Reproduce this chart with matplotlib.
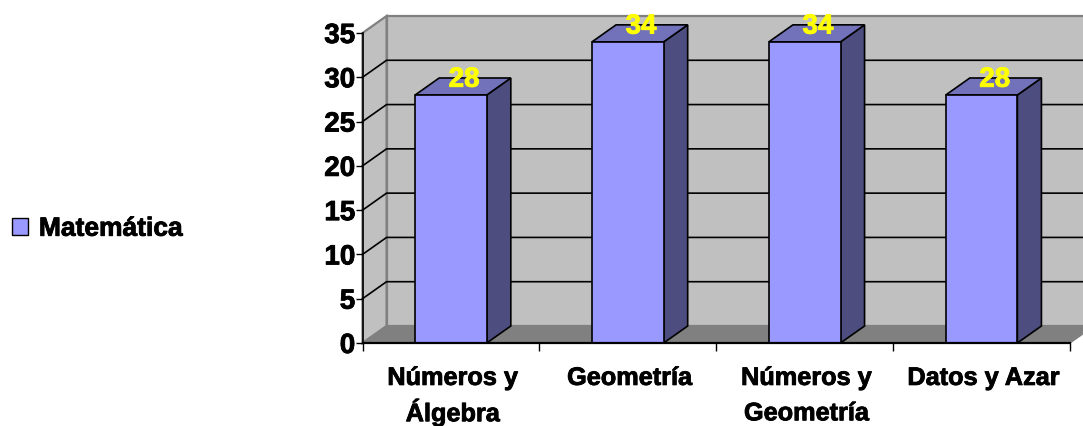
import matplotlib
matplotlib.use('Agg')
import matplotlib.pyplot as plt
import matplotlib.patheffects as pe
from matplotlib.patches import Patch, Polygon

plt.rcParams['font.family'] = ['Liberation Sans', 'DejaVu Sans']

categories = ['Números y\nÁlgebra', 'Geometría', 'Números y\nGeometría', 'Datos y Azar']
values = [28, 34, 34, 28]
series_name = 'Matemática'
yticks = [0, 5, 10, 15, 20, 25, 30, 35]

# depth of the fake 3d box, in data units
dx = 0.136
dy = 1.92
bar_w = 0.405

front = '#9999FF'
top = '#7272BA'
side = '#4D4D80'
wall = '#C0C0C0'
floor = '#808080'


def poly(ax, pts, color, edge='black', lw=1.2, z=2):
    ax.add_patch(Polygon(pts, closed=True, facecolor=color, edgecolor=edge,
                         linewidth=lw, zorder=z, clip_on=False,
                         joinstyle='miter'))


def fatten(t, color='black'):
    t.set_path_effects([pe.withStroke(linewidth=0.6, foreground=color)])


fig = plt.figure(figsize=(10.83, 4.26), dpi=100)
ax = fig.add_axes([362.5/1083, 83/426, 707.5/1083, 310/426])
ax.set_xlim(0, 4)
ax.set_ylim(0, 35)

n = len(categories)
ymax = yticks[-1]

# walls and floor
poly(ax, [(dx, dy), (n+dx, dy), (n+dx, ymax+dy), (dx, ymax+dy)], wall, floor, 1.6, 1)
poly(ax, [(0, 0), (dx, dy), (dx, ymax+dy), (0, ymax)], wall, floor, 1.6, 1)
poly(ax, [(0, 0), (n, 0), (n+dx, dy), (dx, dy)], floor, floor, 1, 1)

# grid lines
for t in yticks[1:-1]:
    ax.plot([0, dx, n+dx], [t, t+dy, t+dy], color='black', lw=1.2, zorder=1.5,
            clip_on=False)

# bars
for i, v in enumerate(values):
    x0 = i + 0.5 - bar_w/2
    x1 = i + 0.5 + bar_w/2
    poly(ax, [(x1, 0), (x1+dx, dy), (x1+dx, v+dy), (x1, v)], side)
    poly(ax, [(x0, v), (x1, v), (x1+dx, v+dy), (x0+dx, v+dy)], top)
    poly(ax, [(x0, 0), (x1, 0), (x1, v), (x0, v)], front, z=3)
    lab = ax.text(i + 0.5 + dx*0.55, v + dy - 0.2, str(v), color='#FFFF00', fontsize=20,
                  fontweight='bold', ha='center', va='center', zorder=5, clip_on=False)
    fatten(lab, '#FFFF00')

for s in ['top', 'right']:
    ax.spines[s].set_visible(False)
ax.spines['left'].set_linewidth(1.2)
ax.spines['bottom'].set_linewidth(1.6)
ax.spines['left'].set_zorder(6)
ax.spines['bottom'].set_zorder(6)
ax.patch.set_visible(False)

ax.set_yticks(yticks)
ax.tick_params(axis='y', length=5.2, width=1, pad=0, labelsize=20)
ax.set_xticks(range(n+1))
ax.set_xticklabels([])
ax.tick_params(axis='x', which='major', length=5.8, width=1)
ax.set_xticks([i+0.51 for i in range(n)], minor=True)
ax.set_xticklabels(categories, minor=True, fontsize=18.2, fontweight='bold',
                   linespacing=1.36)
ax.tick_params(axis='x', which='minor', length=0, pad=16.5)
# the accent on the first label pushes its second line lower than this one
ax.get_xticklabels(minor=True)[2].set_linespacing(1.6)
for lab in ax.get_yticklabels():
    lab.set_fontweight('bold')
    fatten(lab)
for lab in ax.get_xticklabels(minor=True):
    fatten(lab)

leg = fig.legend(handles=[Patch(facecolor=front, edgecolor='black', label=series_name)],
                 loc='center left', bbox_to_anchor=(12/1083, 0.463), frameon=False,
                 borderaxespad=0, borderpad=0,
                 handlelength=0.6, handleheight=0.6, handletextpad=0.42,
                 prop={'size': 19, 'weight': 'bold'})
for lab in leg.get_texts():
    fatten(lab)

fig.savefig('out.png', dpi=100)
